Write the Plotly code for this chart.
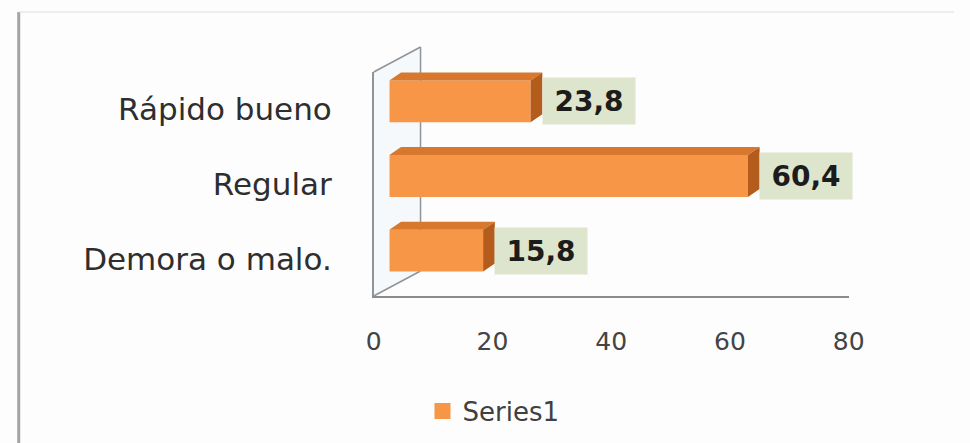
import plotly.graph_objects as go

# Survey results: share of answers per rating (percent)
categories = ["Rápido bueno", "Regular", "Demora o malo."]
values = [23.8, 60.4, 15.8]
value_labels = ["23,8", "60,4", "15,8"]
x_ticks = [0, 20, 40, 60, 80]
series_name = "Series1"

W, H = 970, 443

# Pixel geometry of the pseudo-3D chart box
FRONT_X0, FRONT_X1 = 375, 862      # floor front edge (value 0 .. 80)
FRONT_Y0, FRONT_Y1 = 72, 296       # left wall front edge (top .. bottom)
WALL_DX, WALL_DY = 48, -25         # depth offset of the back wall
BAR_DX, BAR_DY = 16, -8            # bars sit a little behind the front plane
FACE_DX, FACE_DY = 12, -8          # depth of each bar block
X_MAX = 80
BAR_W = 0.56

ORANGE = "#F79646"
ORANGE_TOP = "#D8782F"
ORANGE_SIDE = "#B45C1C"
WALL_LINE = "#8E9499"
FONT = "DejaVu Sans"


def px_x(p):
    return p / W


def px_y(p):
    return 1 - p / H


n = len(categories)
ypos = [n - 1 - i for i in range(n)]

# unit conversions on the bar axes
ux = (FRONT_X1 - FRONT_X0) / X_MAX          # px per value unit
uy = (FRONT_Y1 - FRONT_Y0) / n              # px per category unit
ddx = FACE_DX / ux
ddy = -FACE_DY / uy

fig = go.Figure()

# front faces of the bars
fig.add_trace(go.Bar(
    x=values, y=ypos, orientation="h", width=BAR_W,
    marker=dict(color=ORANGE, line=dict(width=0)),
    xaxis="x2", yaxis="y2", showlegend=False, hoverinfo="skip",
))

# top and side faces, derived from the same values
top_x, top_y, side_x, side_y = [], [], [], []
for v, y in zip(values, ypos):
    yt, yb = y + BAR_W / 2, y - BAR_W / 2
    top_x += [0, v, v + ddx, ddx, 0, None]
    top_y += [yt, yt, yt + ddy, yt + ddy, yt, None]
    side_x += [v, v, v + ddx, v + ddx, v, None]
    side_y += [yb, yt, yt + ddy, yb + ddy, yb, None]

fig.add_trace(go.Scatter(
    x=top_x, y=top_y, fill="toself", fillcolor=ORANGE_TOP, mode="lines",
    line=dict(width=0, color=ORANGE_TOP), xaxis="x2", yaxis="y2",
    showlegend=False, hoverinfo="skip",
))
fig.add_trace(go.Scatter(
    x=side_x, y=side_y, fill="toself", fillcolor=ORANGE_SIDE, mode="lines",
    line=dict(width=0, color=ORANGE_SIDE), xaxis="x2", yaxis="y2",
    showlegend=False, hoverinfo="skip",
))

# legend entry
fig.add_trace(go.Scatter(
    x=[None], y=[None], mode="markers", name=series_name,
    marker=dict(symbol="square", size=18, color=ORANGE),
    xaxis="x", yaxis="y",
))

# value labels
for v, y, lab in zip(values, ypos, value_labels):
    fig.add_annotation(
        x=v, y=y, xref="x2", yref="y2", text=lab, showarrow=False,
        xanchor="left", yanchor="middle", xshift=FACE_DX - 1,
        width=92, height=46, borderpad=0, bgcolor="#DDE6CC",
        font=dict(family=FONT, size=28, color="#1C1C1C", weight="bold"),
    )

# walls and floor of the chart box
shapes = []
fx0, fy0, fy1 = FRONT_X0, FRONT_Y0, FRONT_Y1
bx, by0, by1 = fx0 + WALL_DX, fy0 + WALL_DY, fy1 + WALL_DY
shapes.append(dict(
    type="path", xref="paper", yref="paper", layer="below",
    path=f"M {px_x(fx0)},{px_y(fy0)} L {px_x(bx)},{px_y(by0)} L {px_x(bx)},{px_y(by1)} L {px_x(fx0)},{px_y(fy1)} Z",
    fillcolor="rgba(225,236,246,0.22)", line=dict(width=0),
))
for (xa, ya, xb, yb) in [(fx0, fy0, bx, by0), (bx, by0, bx, by1), (fx0, fy1, bx, by1)]:
    shapes.append(dict(
        type="line", xref="paper", yref="paper", layer="below",
        x0=px_x(xa), y0=px_y(ya), x1=px_x(xb), y1=px_y(yb),
        line=dict(color=WALL_LINE, width=1.5),
    ))
# outer frame
shapes.append(dict(type="line", xref="paper", yref="paper",
                   x0=px_x(11), y0=px_y(12), x1=px_x(11), y1=0,
                   line=dict(color="#A3A3A3", width=3)))
shapes.append(dict(type="line", xref="paper", yref="paper",
                   x0=px_x(11), y0=px_y(12), x1=1, y1=px_y(12),
                   line=dict(color="#DEDEDE", width=1)))

fig.update_layout(
    width=W, height=H,
    margin=dict(l=0, r=0, t=0, b=0),
    paper_bgcolor="#FDFDFD", plot_bgcolor="rgba(0,0,0,0)",
    shapes=shapes,
    showlegend=True,
    legend=dict(
        orientation="h", x=px_x(425), y=px_y(411), xanchor="left", yanchor="middle",
        font=dict(family=FONT, size=26, color="#404040"),
        bgcolor="rgba(0,0,0,0)",
    ),
    xaxis=dict(
        domain=[px_x(FRONT_X0), px_x(FRONT_X1)], range=[0, X_MAX],
        tickvals=x_ticks, ticktext=[str(t) for t in x_ticks],
        showgrid=False, zeroline=False, showline=True,
        linecolor="#8C8C8C", linewidth=2,
        ticks="outside", ticklen=22, tickcolor="rgba(0,0,0,0)",
        tickfont=dict(family=FONT, size=25, color="#444444"),
        anchor="y", fixedrange=True,
    ),
    yaxis=dict(
        domain=[px_y(FRONT_Y1), px_y(FRONT_Y0)], range=[-0.5, n - 0.5],
        tickvals=ypos, ticktext=categories,
        showgrid=False, zeroline=False, showline=True,
        linecolor=WALL_LINE, linewidth=1.5,
        ticks="outside", ticklen=34, tickcolor="rgba(0,0,0,0)",
        tickfont=dict(family=FONT, size=31, color="#2E2E2E"),
        anchor="x", fixedrange=True,
    ),
    xaxis2=dict(
        domain=[px_x(FRONT_X0 + BAR_DX), px_x(FRONT_X1 + BAR_DX)], range=[0, X_MAX],
        visible=False, anchor="y2", fixedrange=True,
    ),
    yaxis2=dict(
        domain=[px_y(FRONT_Y1 + BAR_DY), px_y(FRONT_Y0 + BAR_DY)], range=[-0.5, n - 0.5],
        visible=False, anchor="x2", fixedrange=True,
    ),
)

fig.write_html("out.html", config=dict(displayModeBar=False))
